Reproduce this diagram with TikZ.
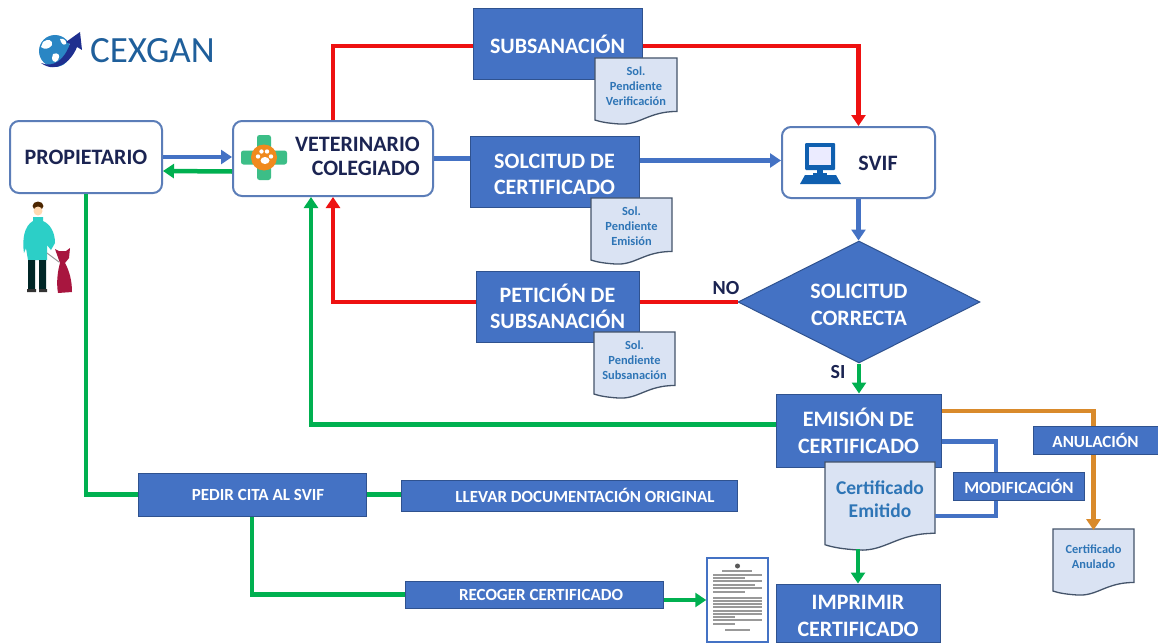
\documentclass[tikz,border=0pt]{standalone}
\usepackage{fontspec}
\setmainfont{Carlito}
\usetikzlibrary{arrows.meta,shapes.geometric}
\definecolor{bxblue}{HTML}{4472C4}
\definecolor{bxedge}{HTML}{2F528F}
\definecolor{cgreen}{HTML}{00B050}
\definecolor{cred}{HTML}{EE1111}
\definecolor{corange}{HTML}{D98A2B}
\definecolor{dark}{HTML}{1B2452}
\definecolor{docfill}{HTML}{DAE3F3}
\definecolor{docedge}{HTML}{44546A}
\definecolor{doctext}{HTML}{2E75B6}
\definecolor{edgeround}{HTML}{5B7DB8}
\definecolor{crossg}{HTML}{3CBE87}
\definecolor{pawor}{HTML}{F08A1D}
\definecolor{teal1}{HTML}{2CCFC7}
\definecolor{crim}{HTML}{A8163F}
\definecolor{logob}{HTML}{1F5F9B}
\definecolor{globeb}{HTML}{2A86C4}
\definecolor{navy}{HTML}{1F2F8F}
\definecolor{pcblue}{HTML}{0F5FAF}
\tikzset{
  bluebox/.style={draw=bxedge,line width=1pt,fill=bxblue,text=white,font=\bfseries\fontsize{22}{26}\selectfont,align=center,inner sep=0pt},
  smallbox/.style={bluebox,font=\bfseries\fontsize{17}{20}\selectfont},
  roundbox/.style={draw=edgeround,line width=2pt,fill=white,rounded corners=9pt,text=dark,font=\bfseries\fontsize{22}{24}\selectfont,align=center,inner sep=0pt},
  conn/.style={line width=4.5pt,-{Triangle[length=11pt,width=14pt]}},
  link/.style={line width=4.5pt},
  lbl/.style={text=dark,font=\bfseries\fontsize{20}{22}\selectfont,inner sep=0pt},
  doctxt/.style={text=doctext,align=center,inner sep=0pt,font=\bfseries\fontsize{12.4}{15}\selectfont},
  docbig/.style={doctxt,font=\bfseries\fontsize{19.5}{23}\selectfont}
}
% name, x, y, w, h, text, style
\newcommand{\docshape}[7]{%
  \begin{scope}[shift={(#2,#3)},x=#4pt,y=-#5pt]
    \draw[fill=docfill,draw=docedge,line width=1.3pt] (0,0) -- (1,0) -- (1,.81) .. controls (.65,.81) and (.55,1.02) .. (.3,1) .. controls (.17,.99) and (.07,.97) .. (0,.94) -- cycle;
    \node[#7,minimum width=#4pt,minimum height=#5pt*0.8] (#1) at (.5,.42) {#6};
  \end{scope}}
\newcommand{\lowertext}{\rule{0pt}{20pt}}
\begin{document}
\begin{tikzpicture}[x=1pt,y=-1pt]
\useasboundingbox (0,0) rectangle (1158,642);
\fill[white] (0,0) rectangle (1158,642);

% main nodes
\node[roundbox,minimum width=152pt,minimum height=72pt] (prop) at (86,157) {PROPIETARIO};
\node[roundbox,minimum width=200pt,minimum height=75pt] (vet) at (333,158.5) {};
\node[text=dark,font=\bfseries\fontsize{22}{24}\selectfont,align=right,inner sep=0pt,anchor=east] (vettxt) at (420,156) {VETERINARIO\\COLEGIADO};
\node[bluebox,minimum width=169pt,minimum height=70pt] (sub) at (557.5,44) {SUBSANACIÓN};
\node[bluebox,minimum width=169pt,minimum height=71pt] (sol) at (554.5,171.5) {\lowertext SOLCITUD DE\\CERTIFICADO};
\node[bluebox,minimum width=163pt,minimum height=71pt] (pet) at (557.5,306.5) {PETICIÓN DE\\SUBSANACIÓN};
\node[roundbox,minimum width=153pt,minimum height=71pt] (svif) at (858.5,162.5) {};
\node[text=dark,font=\bfseries\fontsize{22}{24}\selectfont,inner sep=0pt] (sviftxt) at (878,163) {SVIF};
\node[diamond,aspect=2,fill=bxblue,draw=bxedge,line width=1pt,text=white,font=\bfseries\fontsize{22}{27}\selectfont,align=center,inner sep=0pt,minimum width=242pt,minimum height=122pt] (dia) at (859,302) {\lowertext SOLICITUD\\CORRECTA};
\node[bluebox,minimum width=165pt,minimum height=73pt] (emi) at (858.5,430.5) {EMISIÓN DE\\[1pt]CERTIFICADO};
\node[bluebox,minimum width=164pt,minimum height=58pt] (imp) at (858,613) {\lowertext IMPRIMIR\\[1pt]CERTIFICADO};
\node[smallbox,minimum width=125pt,minimum height=28pt] (anu) at (1095.5,440) {ANULACIÓN};
\node[smallbox,minimum width=131pt,minimum height=28pt] (mod) at (1019,486) {MODIFICACIÓN};
\node[smallbox,minimum width=228pt,minimum height=43pt] (ped) at (252,494.5) {\hspace*{12pt}PEDIR CITA AL SVIF};
\node[smallbox,minimum width=336pt,minimum height=31pt] (lle) at (569,495.5) {\hspace*{32pt}LLEVAR DOCUMENTACIÓN ORIGINAL};
\node[smallbox,minimum width=258pt,minimum height=27pt] (rec) at (534,594.5) {\hspace*{14pt}RECOGER CERTIFICADO};
\node[draw=bxblue,line width=1.5pt,fill=white,minimum width=61pt,minimum height=84pt,inner sep=0pt] (cert) at (737.5,600) {};

% connectors
\draw[conn,bxblue] (prop.east) -- (prop.east -| vet.west);
\draw[conn,cgreen] ([yshift=-13pt]vet.west) -- ([yshift=-14pt]prop.east);
\draw[link,cred] (vet.north) |- ([yshift=-2pt]sub.west);
\draw[conn,cred] ([yshift=-2pt]sub.east) -| (svif.north);
\draw[link,bxblue] (vet.east) -- (vet.east -| sol.west);
\draw[conn,bxblue] ([yshift=11pt]sol.east) -- ([yshift=2pt]svif.west);
\draw[conn,bxblue] (svif.south) -- (svif.south |- dia.north);
\draw[link,cred] (dia.west) -- (dia.west -| pet.east);
\draw[conn,cred] (dia.west -| pet.west) -| (vet.south);
\draw[conn,cgreen] (dia.south) -- (dia.south |- emi.north);
\draw[conn,cgreen] ([yshift=6pt]emi.west) -| ([xshift=-22pt]vet.south);
\draw[link,cgreen] (prop.south) |- (ped.west);
\draw[link,cgreen] (ped.east) -- (ped.east -| lle.west);
\draw[link,cgreen] (ped.south) |- (rec.west);
\draw[conn,cgreen] (rec.east |- cert.west) -- (cert.west);

% documents
\docshape{dsub}{595}{58}{82}{66}{Sol.\\Pendiente\\Verificación}{doctxt}
\docshape{dsol}{591}{198}{81}{66}{Sol.\\Pendiente\\Emisión}{doctxt}
\docshape{dpet}{594}{332}{81}{66}{Sol.\\Pendiente\\Subsanación}{doctxt}
\docshape{demi}{825}{462}{110}{88}{Certificado\\Emitido}{docbig}
\docshape{danu}{1053}{529}{81}{66}{Certificado\\Anulado}{doctxt}

\draw[conn,cgreen] (demi.south -| imp.north) ++(0,15) -- (imp.north);
\draw[link,corange] ([yshift=19.5pt]emi.east) -| (anu.north -| danu.north);
\draw[conn,corange] (anu.south -| danu.north) -- (danu.north);
\draw[link,bxblue] ([yshift=-11pt]emi.east) -| ([xshift=-23pt]mod.north);
\draw[link,bxblue] ([xshift=-23pt]mod.south) |- ([yshift=-17pt]demi.east);

% labels
\node[lbl] (no) at (726,288) {NO};
\node[lbl] (si) at (838,372) {SI};

% logo
\begin{scope}
  \fill[globeb] (55,51) circle (16);
  \fill[white] (43,42) .. controls (48,38) and (53,40) .. (52,45) .. controls (49,49) and (45,50) .. (41,47) -- cycle;
  \fill[white] (53,54) .. controls (58,52) and (61,55) .. (58,60) .. controls (55,64) and (52,61) .. (52,58) -- cycle;
  \fill[white] (60,39) .. controls (64,38) and (67,41) .. (66,44) .. controls (63,46) and (61,43) .. (60,39) -- cycle;
  \fill[navy] (41,63) .. controls (54,68) and (64,60) .. (70,44) -- (66,42) -- (80,32) -- (82,50) -- (77,47) .. controls (71,62) and (56,74) .. (41,63) -- cycle;
  \node[text=logob,font=\fontsize{37}{38}\selectfont,inner sep=0pt,anchor=west] (logotxt) at (90,51) {CEXGAN};
\end{scope}

% veterinary icon
\begin{scope}[shift={(264,157.5)}]
  \fill[crossg,rounded corners=2.5pt] (-7,-22.5) rectangle (7,22.5);
  \fill[crossg,rounded corners=2.5pt] (-23,-7) rectangle (23,7);
  \fill[pawor] (0,0) circle (13);
  \fill[white] (1,3) ellipse (4.5 and 3.5);
  \fill[white] (-6,-1) circle (2.2) (-2.5,-6) circle (2.2) (3,-6) circle (2.2) (7,-1) circle (2.2);
\end{scope}

% computer icon
\begin{scope}
  \fill[pcblue,rounded corners=1pt] (805,143) rectangle (835,170);
  \fill[white!92!blue] (809,147) rectangle (831,165);
  \fill[pcblue] (817,170) rectangle (823,173);
  \fill[pcblue] (813,173) rectangle (827,175);
  \fill[pcblue] (805,175) -- (836,175) -- (841,184) -- (800,184) -- cycle;
\end{scope}

% person and dog
\begin{scope}
  \fill[black!70!orange] (38,206) ellipse (5.5 and 4.5);
  \fill[orange!30!white] (38,211) circle (4.5);
  \fill[teal1] (33,221) -- (33,217) -- (43,217) -- (43,221) .. controls (50,224) and (55,232) .. (55,243) -- (51,250) -- (47,245) -- (47,260) -- (28,260) -- (26,248) -- (24,253) .. controls (22,240) and (24,226) .. (33,221) -- cycle;
  \fill[black!70!teal] (28,260) rectangle (35,289) (39,260) rectangle (46,289);
  \fill[black!80] (27,289) rectangle (36,292) (39,289) rectangle (47,292);
  \draw[black!40,line width=1pt] (47,253) -- (59,262);
  \fill[crim] (55,249) -- (59,251) -- (66,251) -- (70,248) -- (69,258) -- (65,263) .. controls (70,272) and (72,282) .. (72,292) -- (58,293) .. controls (56,282) and (58,270) .. (60,263) -- cycle;
\end{scope}

% printed certificate page
\fill[black!65] (737.5,566) circle (2.5);
\foreach \yy/\xa/\xb in {571/722/752,575/713/762,578/713/745,581/713/762,585/713/755,588/713/762,592/713/745,598/713/762,601/713/762,604/713/762,607/713/762,611/713/762,614/713/762,617/713/735,620/713/762,624/713/735,630/725/750}{
  \draw[black!40,line width=1.1pt] (\xa,\yy) -- (\xb,\yy);
}
\end{tikzpicture}
\end{document}
